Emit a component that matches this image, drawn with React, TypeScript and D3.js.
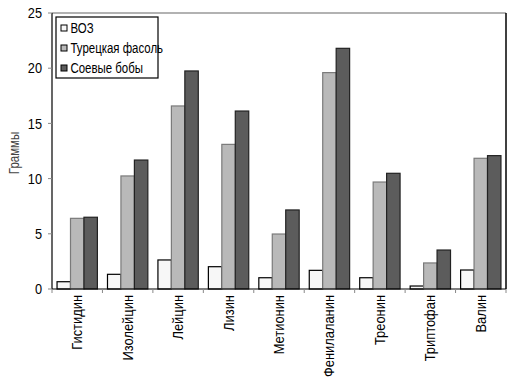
import React from "react";
import * as d3 from "d3";

const categories = ["Гистидин", "Изолейцин", "Лейцин", "Лизин", "Метионин", "Фенилаланин", "Треонин", "Триптофан", "Валин"];
const seriesNames = ["ВОЗ", "Турецкая фасоль", "Соевые бобы"];
const vozValues = [0.66, 1.33, 2.63, 2.02, 1.02, 1.69, 1.02, 0.27, 1.72];
const beanValues = [6.4, 10.24, 16.58, 13.1, 4.98, 19.6, 9.69, 2.36, 11.84];
const soyValues = [6.5, 11.68, 19.75, 16.12, 7.16, 21.8, 10.48, 3.53, 12.08];
const yTicks = [0, 5, 10, 15, 20, 25];

const fills = ["#f7f7f7", "#b9b9b9", "#5c5c5c"];
const strokes = ["#000", "#7a7a7a", "#222"];
const FONT = "'Liberation Sans Narrow', 'Arial Narrow', 'Liberation Sans', sans-serif";

export default function App() {
  const W = 517, H = 384;
  const left = 52, right = 506, top = 13, bottom = 289;
  const series = [vozValues, beanValues, soyValues];
  const x = d3.scaleBand<string>().domain(categories).range([left, right]).paddingInner(0.2).paddingOuter(0.1);
  const xb = d3.scaleBand<string>().domain(categories).range([left, right]);
  const xi = d3.scaleBand<number>().domain([0, 1, 2]).range([0, x.bandwidth()]);
  const y = d3.scaleLinear().domain([0, 25]).range([bottom, top]);

  return (
    <svg width={W} height={H} style={{ position: "absolute", left: 0, top: 0, background: "#fff" }} fontFamily={FONT}>
      <rect x={0} y={0} width={W} height={H} fill="#fff" />
      {/* frame */}
      <line x1={left} x2={right} y1={top} y2={top} stroke="#999" strokeWidth={1.5} />
      <line x1={right} x2={right} y1={top} y2={bottom} stroke="#000" strokeWidth={1.5} />
      {/* bars */}
      {categories.map((c, i) => (
        <g key={c}>
          {series.map((vals, s) => (
            <rect
              key={s}
              x={(x(c) as number) + (xi(s) as number)}
              y={y(vals[i])}
              width={xi.bandwidth()}
              height={bottom - y(vals[i])}
              fill={fills[s]}
              stroke={strokes[s]}
              strokeWidth={1.2}
            />
          ))}
        </g>
      ))}
      {/* y axis */}
      <line x1={left} x2={left} y1={top} y2={bottom} stroke="#000" strokeWidth={1.2} />
      {yTicks.map((t) => (
        <g key={t}>
          <line x1={left - 4} x2={left} y1={y(t)} y2={y(t)} stroke="#888" />
          <text transform={`translate(${left - 10},${y(t)}) scale(0.88,1)`} dy="0.36em" textAnchor="end" fontSize={14.5} fill="#000">{t}</text>
        </g>
      ))}
      <text transform={`translate(19,153) rotate(-90) scale(0.82,1)`} textAnchor="middle" fontSize={14} fill="#444">Граммы</text>
      {/* x axis */}
      <line x1={left} x2={right} y1={bottom} y2={bottom} stroke="#000" strokeWidth={1.2} />
      {categories.map((c) => (
        <line key={"t" + c} x1={(xb(c) as number)} x2={(xb(c) as number)} y1={bottom} y2={bottom + 4} stroke="#888" />
      ))}
      <line x1={right} x2={right} y1={bottom} y2={bottom + 4} stroke="#888" />
      {categories.map((c) => (
        <text
          key={"l" + c}
          transform={`translate(${(xb(c) as number) + xb.bandwidth() / 2 + 5},295) rotate(-90) scale(0.86,1)`}
          textAnchor="end"
          fontSize={15}
          fill="#000"
        >
          {c}
        </text>
      ))}
      {/* legend */}
      <rect x={56} y={17} width={102} height={61} fill="#fff" stroke="#000" strokeWidth={1.2} />
      {seriesNames.map((n, s) => (
        <g key={n}>
          <rect x={61} y={25 + s * 20} width={6} height={6} fill={fills[s]} stroke="#000" strokeWidth={1} />
          <text transform={`translate(70.5,${28 + s * 20}) scale(0.79,1)`} dy="0.36em" fontSize={14.5} fill="#000">{n}</text>
        </g>
      ))}
    </svg>
  );
}
